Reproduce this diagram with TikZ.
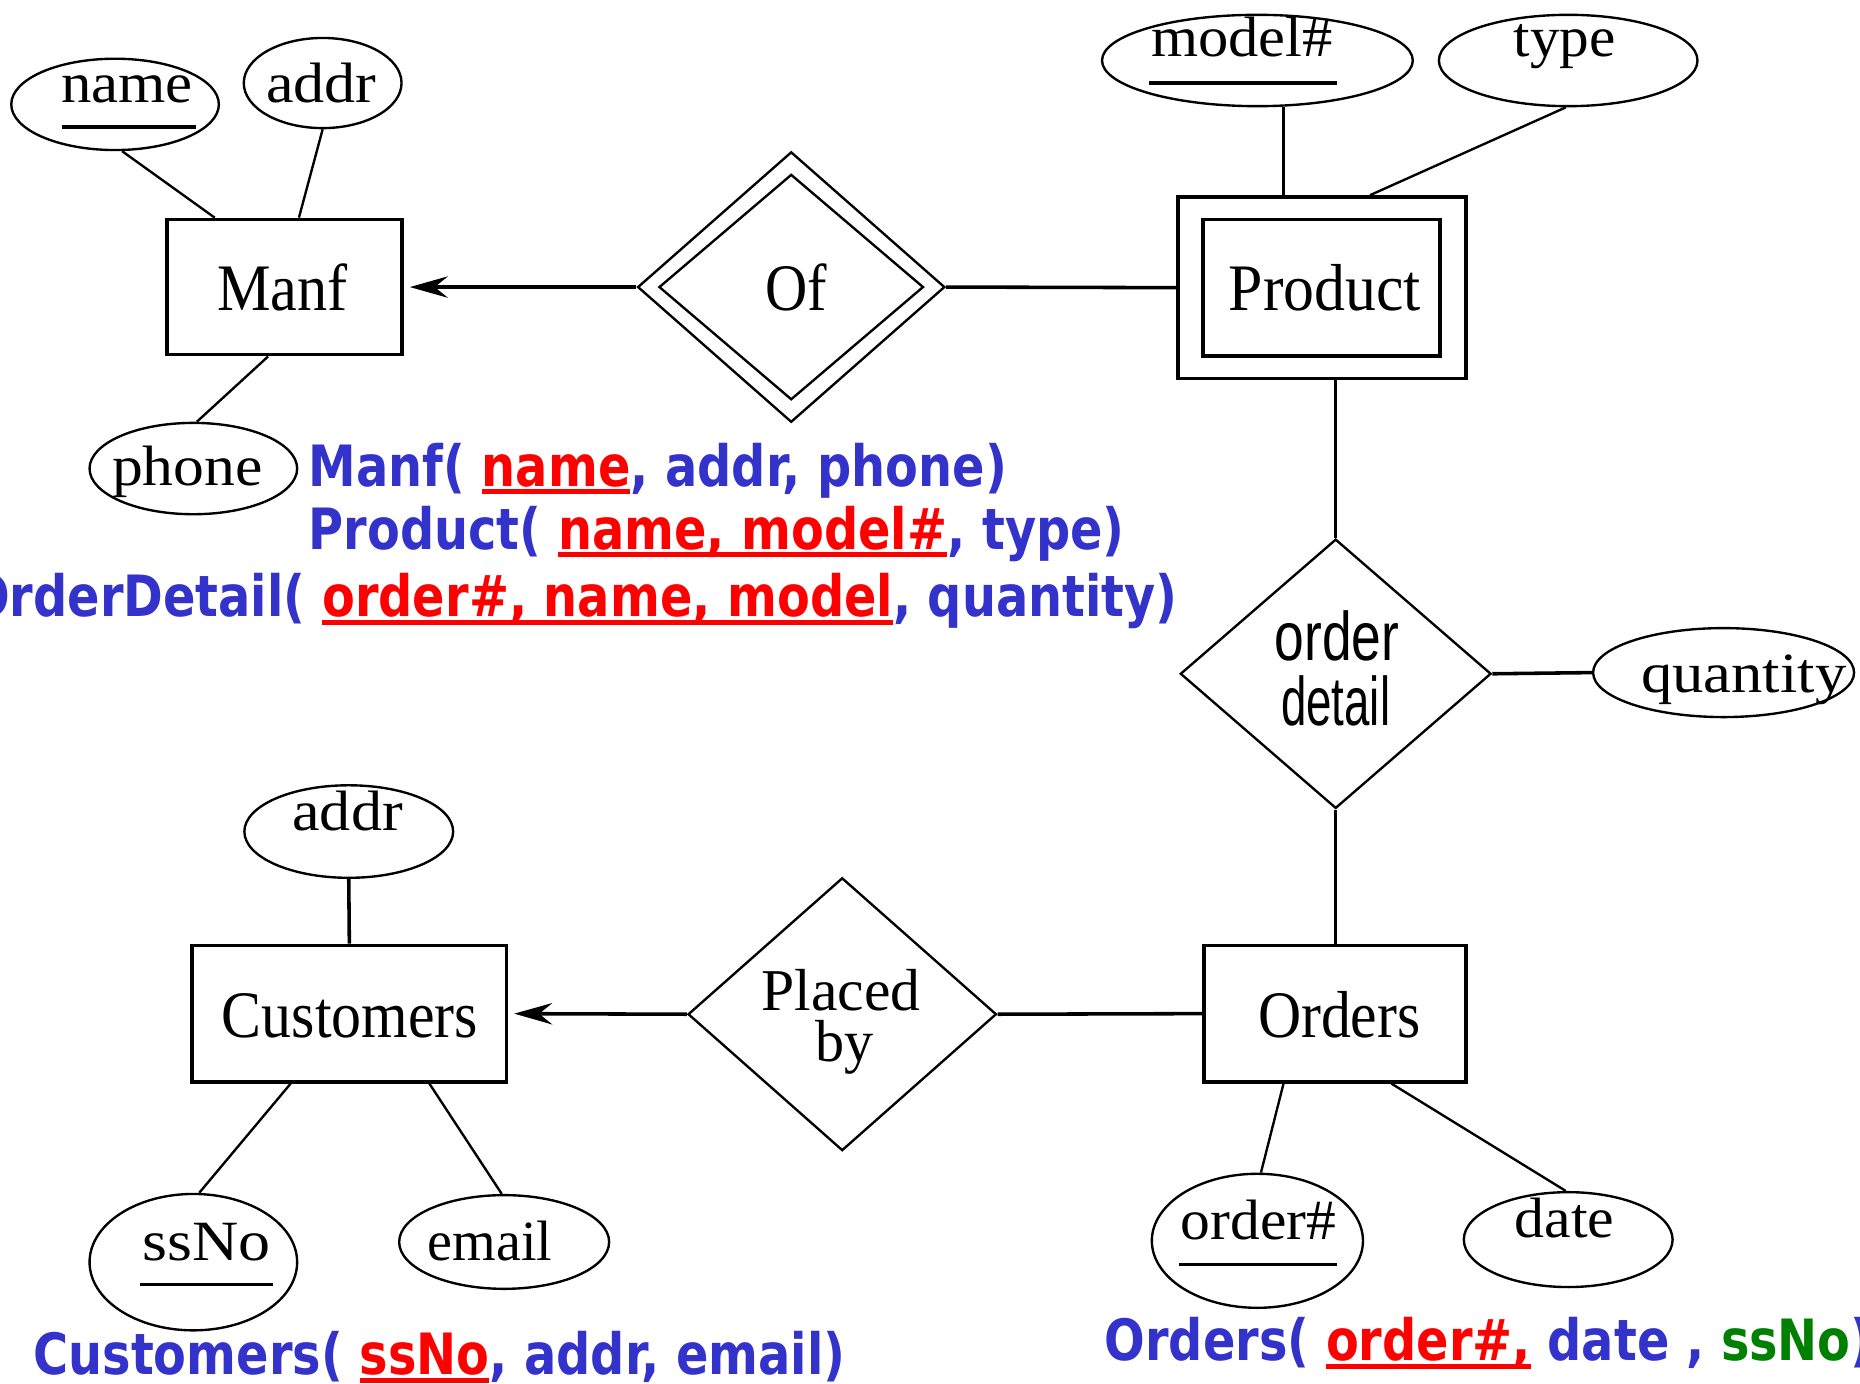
\documentclass[tikz,border=0pt]{standalone}
\usepackage{fontspec}
\setmainfont{Liberation Serif}
\newfontfamily\relfont{DejaVu Sans}
\newfontfamily\odfont{Liberation Sans}
\usetikzlibrary{shapes.geometric,arrows.meta}
\definecolor{relblue}{RGB}{51,51,204}
\definecolor{keyred}{RGB}{255,0,0}
\definecolor{fkgreen}{RGB}{0,128,0}
\newcommand\fitw[3]{\resizebox{#1pt}{\height}{\fontsize{#2}{#2}\selectfont #3}}
\newsavebox\ulbox
\newcommand\redul[1]{\sbox\ulbox{\color{keyred}#1}\rlap{\color{keyred}\rule[-0.14em]{\wd\ulbox}{0.085em}}\usebox\ulbox}
\tikzset{
  entity/.style={draw, line width=3pt, rectangle, inner sep=0pt},
  attr/.style={draw, line width=2pt, ellipse, inner sep=0pt},
  rel/.style={draw, line width=2pt, diamond, inner sep=0pt},
  lbl/.style={anchor=base, inner sep=0pt},
  conn/.style={line width=3pt},
  diag/.style={line width=2pt},
  relline/.style={inner sep=0pt, text=relblue, font=\relfont\bfseries\fontsize{48}{50}\selectfont},
  toone/.style={-{Stealth[length=32pt,width=18pt,inset=11pt]}, shorten >=5pt}
}
\begin{document}
\begin{tikzpicture}[x=1pt,y=-1pt]
\fill[white] (0,0) rectangle (1568,1166);
\useasboundingbox (0,0) rectangle (1568,1166);

% entities
\node[entity, minimum width=198pt, minimum height=114pt] (manf) at (240,242) {};
\node[entity, minimum width=243pt, minimum height=153pt] (prodO) at (1114.5,242.5) {};
\node[entity, minimum width=200pt, minimum height=115pt] (prodI) at (1114,242.5) {};
\node[entity, minimum width=265pt, minimum height=115pt] (cust) at (294.5,854.5) {};
\node[entity, minimum width=221pt, minimum height=115pt] (orders) at (1125.5,854.5) {};

% relationships
\node[rel, minimum width=259pt, minimum height=228pt] (ofO) at (667,242) {};
\node[rel, minimum width=223pt, minimum height=190pt] (ofI) at (667,242) {};
\node[rel, minimum width=262pt, minimum height=227pt] (od) at (1126,568) {};
\node[rel, minimum width=260pt, minimum height=230pt] (pb) at (710,855) {};

% attributes
\node[attr, minimum width=175pt, minimum height=77pt] (nameE) at (97,88) {};
\node[attr, minimum width=133pt, minimum height=76pt] (addrT) at (272,70) {};
\node[attr, minimum width=175pt, minimum height=77pt] (phoneE) at (163,395) {};
\node[attr, minimum width=262pt, minimum height=77pt] (modelE) at (1060,51) {};
\node[attr, minimum width=218pt, minimum height=77pt] (typeE) at (1322,51) {};
\node[attr, minimum width=220pt, minimum height=75pt] (qtyE) at (1453,567) {};
\node[attr, minimum width=176pt, minimum height=78pt] (addrB) at (294,701) {};
\node[attr, minimum width=175pt, minimum height=115pt] (ssnoE) at (163,1064) {};
\node[attr, minimum width=177pt, minimum height=79pt] (emailE) at (425,1047) {};
\node[attr, minimum width=178pt, minimum height=113pt] (ordnE) at (1060,1046) {};
\node[attr, minimum width=176pt, minimum height=80pt] (dateE) at (1322,1045) {};

% labels in shapes
\node[lbl] (tManf) at (238,262) {\fitw{110}{56}{Manf}};
\node[lbl] (tProd) at (1117,262) {\fitw{162}{56}{Product}};
\node[lbl] (tCust) at (295,875) {\fitw{216}{56}{Customers}};
\node[lbl] (tOrd) at (1129,875) {\fitw{137}{56}{Orders}};
\node[lbl] (tOf) at (671,262) {\fitw{52}{56}{Of}};
\node[lbl] (tPlaced) at (709,852) {\fitw{134}{50}{Placed}};
\node[lbl] (tBy) at (712,895) {\fitw{49}{50}{by}};
\node[lbl] (tOrder) at (1127,557) {\odfont\fitw{105}{58}{order}};
\node[lbl] (tDetail) at (1126,612) {\odfont\fitw{92}{58}{detail}};

\node[lbl] (tName) at (107,86) {\fitw{111}{48}{name}};
\node[lbl] (tAddrT) at (271,86) {\fitw{93}{48}{addr}};
\node[lbl] (tPhone) at (158,409) {\fitw{127}{48}{phone}};
\node[lbl] (tModel) at (1047,48) {\fitw{153}{48}{model\#}};
\node[lbl] (tType) at (1319,48) {\fitw{86}{48}{type}};
\node[lbl] (tQty) at (1470,584) {\fitw{173}{48}{quantity}};
\node[lbl] (tAddrB) at (293,700) {\fitw{93}{48}{addr}};
\node[lbl] (tSsno) at (174,1063) {\fitw{108}{48}{ssNo}};
\node[lbl] (tEmail) at (413,1063) {\fitw{105}{48}{email}};
\node[lbl] (tOrdn) at (1061,1045) {\fitw{131}{48}{order\#}};
\node[lbl] (tDate) at (1319,1043) {\fitw{84}{48}{date}};

% key underlines inside ellipses
\draw[line width=3pt] (52,107) -- (165,107);
\draw[line width=3pt] (969,70) -- (1127,70);
\draw[line width=3pt] (118,1083) -- (230,1083);
\draw[line width=3pt] (994,1066) -- (1127,1066);

% connectors
\draw[diag] ([xshift=6pt]nameE.south) -- ([xshift=-59pt]manf.north);
\draw[diag] (addrT.south) -- ([xshift=12pt]manf.north);
\draw[diag] ([xshift=-14pt]manf.south) -- ([xshift=3pt]phoneE.north);
\draw[conn, toone] (ofO.west) -- (manf.east);
\draw[conn] (ofO.east) -- (prodO.west);
\draw[conn] ([xshift=22pt]modelE.south) -- ([xshift=-32.5pt]prodO.north);
\draw[diag] ([xshift=-2pt]typeE.south) -- ([xshift=40.5pt]prodO.north);
\draw[conn] ([xshift=11.5pt]prodO.south) -- (od.north);
\draw[conn] (od.east) -- (qtyE.west);
\draw[conn] (od.south) -- ([xshift=0.5pt]orders.north);
\draw[conn] (orders.west) -- (pb.east);
\draw[conn, toone] (pb.west) -- (cust.east);
\draw[conn] (cust.north) -- (addrB.south);
\draw[diag] ([xshift=-49.5pt]cust.south) -- ([xshift=5pt]ssnoE.north);
\draw[diag] ([xshift=67.5pt]cust.south) -- ([xshift=-2pt]emailE.north);
\draw[diag] ([xshift=-43.5pt]orders.south) -- ([xshift=3pt]ordnE.north);
\draw[diag] ([xshift=47.5pt]orders.south) -- ([xshift=-2pt]dateE.north);

% relational schema text
\node[relline, anchor=base west] (sManf) at (260,410)
  {\scalebox{0.84}[1]{Manf( \redul{name}, addr, phone)}};
\node[relline, anchor=base west] (sProd) at (260,463)
  {\scalebox{0.84}[1]{Product( \redul{name, model\#}, type)}};
\node[relline, anchor=base east] (sOD) at (993,520)
  {\scalebox{0.84}[1]{OrderDetail( \redul{order\#, name, model}, quantity)}};
\node[relline, anchor=base west] (sCust) at (28,1159)
  {\scalebox{0.84}[1]{Customers( \redul{ssNo}, addr, email)}};
\node[relline, anchor=base west] (sOrd) at (931,1147)
  {\scalebox{0.84}[1]{Orders( \redul{order\#,} date , \textcolor{fkgreen}{ssNo})}};
\end{tikzpicture}
\end{document}
